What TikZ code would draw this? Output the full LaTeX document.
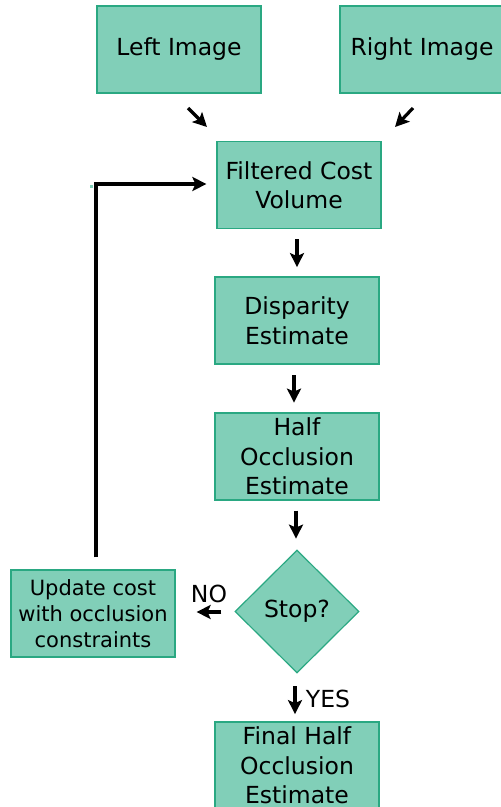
\documentclass[tikz,border=0pt]{standalone}
\usepackage{fontspec}
\setmainfont{DejaVu Sans}
\usetikzlibrary{shapes.geometric,arrows.meta,calc}
\definecolor{boxfill}{RGB}{129,207,184}
\definecolor{boxline}{RGB}{42,168,130}
\begin{document}
\begin{tikzpicture}[x=1pt,y=-1pt,
  box/.style={draw=boxline,fill=boxfill,line width=1.2pt,minimum width=164pt,minimum height=87pt,
    inner sep=0pt,align=center,font=\fontsize{23.5pt}{29.5pt}\selectfont,text=black},
  smallbox/.style={box,font=\fontsize{21pt}{26pt}\selectfont},
  decision/.style={diamond,draw=boxline,fill=boxfill,line width=1.2pt,minimum width=124pt,minimum height=123pt,
    inner sep=0pt,font=\fontsize{23.5pt}{29.5pt}\selectfont},
  arr/.style={line width=3.2pt,-{Stealth[length=14pt,width=14pt,inset=3pt]}},
  lbl/.style={font=\fontsize{23.5pt}{27pt}\selectfont,inner sep=0pt}]
\useasboundingbox (0,0) rectangle (501,807);
\node[box] (left) at (179,49.5) {Left Image};
\node[box] (right) at (422,49.5) {Right Image};
\node[box] (filtered) at (299,185) {Filtered Cost\\Volume};
\node[box] (disp) at (297,320.5) {Disparity\\Estimate};
\node[box] (half) at (297,456.5) {Half\\Occlusion\\Estimate};
\node[decision] (stop) at (297,611.5) {Stop?};
\node[smallbox] (update) at (93,613.5) {Update cost\\with occlusion\\constraints};
\node[box] (final) at (297,765.5) {Final Half\\Occlusion\\Estimate};
% free arrow end points
\coordinate (la) at (188,108);
\coordinate (lb) at (207,127);
\coordinate (ra) at (413,108);
\coordinate (rb) at (395,127);
\draw[arr] (la) -- (lb);
\draw[arr] (ra) -- (rb);
\draw[arr] ($(filtered.south)+(-2,10)$) -- ($(filtered.south)+(-2,38)$);
\draw[arr] ($(disp.south)+(-3,10.5)$) -- ($(disp.south)+(-3,38)$);
\draw[arr] ($(half.south)+(-1,10)$) -- ($(half.south)+(-1,38)$);
\draw[arr] ($(stop.west)+(-13,0.5)$) -- ($(update.east)+(21,-1.5)$);
\draw[arr] ($(stop.south)+(-2,12.5)$) -- ($(stop.south)+(-2,40.5)$);
\coordinate (fb) at ($(update.north)+(3,-12)$);
\draw[arr] (fb) |- ($(filtered.west)+(-10,-1)$);
\fill[boxfill] (90,185) rectangle (92.5,187.5);
\node[lbl] (no) at (209,594) {NO};
\node[lbl] (yes) at (328,699) {YES};
\end{tikzpicture}
\end{document}
